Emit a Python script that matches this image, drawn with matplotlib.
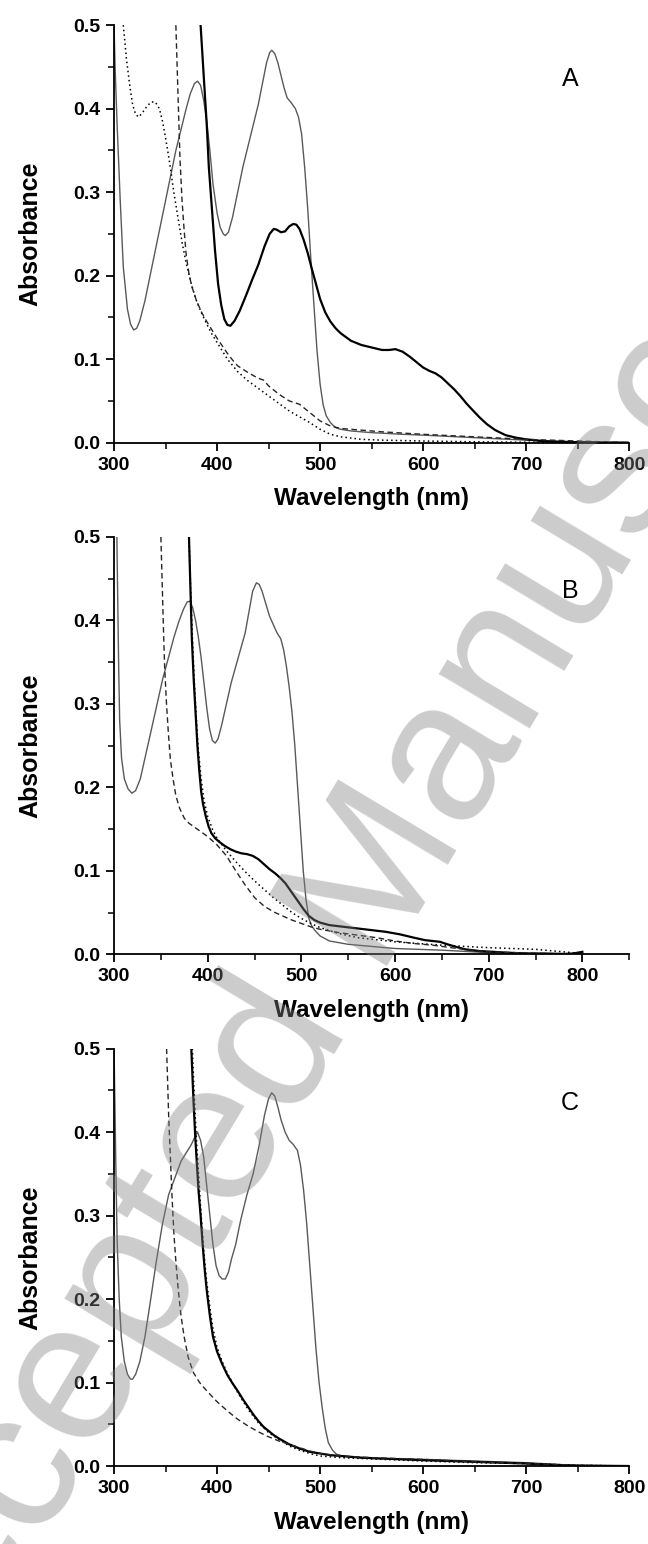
import matplotlib
matplotlib.use("Agg")
import matplotlib.pyplot as plt
from matplotlib.ticker import MultipleLocator

# ---- panel A ----
a_gray_x = [300, 301, 303, 306, 309, 313, 316, 319, 322, 325, 330, 335, 340, 345, 350, 355, 360, 365,
            370, 374, 378, 381, 384, 387, 390, 393, 396, 400, 403, 406, 408, 411, 415, 420, 425, 430,
            435, 440, 444, 448, 451, 453, 456, 459, 462, 465, 468, 472, 476, 479, 482, 485, 488, 491,
            494, 497, 500, 503, 506, 510, 515, 520, 530, 550, 580, 600, 650, 700, 750, 800]
a_gray_y = [0.50, 0.45, 0.38, 0.29, 0.21, 0.16, 0.142, 0.135, 0.137, 0.146, 0.17, 0.20, 0.23, 0.26,
            0.29, 0.32, 0.35, 0.375, 0.40, 0.418, 0.430, 0.433, 0.428, 0.41, 0.385, 0.35, 0.31, 0.275,
            0.258, 0.25, 0.248, 0.252, 0.27, 0.30, 0.33, 0.355, 0.38, 0.405, 0.43, 0.455, 0.467, 0.470,
            0.466, 0.455, 0.44, 0.425, 0.413, 0.407, 0.40, 0.39, 0.37, 0.33, 0.28, 0.22, 0.165, 0.11,
            0.07, 0.045, 0.032, 0.024, 0.018, 0.016, 0.014, 0.012, 0.010, 0.009, 0.006, 0.003, 0.001, 0.0]

a_black_x = [384, 386, 388, 390, 392, 395, 398, 401, 404, 407, 410, 413, 417, 422, 428, 434, 440,
             446, 451, 455, 458, 462, 466, 470, 474, 477, 480, 484, 488, 492, 496, 500, 505, 510,
             515, 520, 530, 540, 550, 560, 567, 573, 580, 587, 594, 600, 606, 612, 618, 624, 630,
             636, 642, 648, 655, 662, 670, 680, 690, 700, 715, 730, 750, 775, 800]
a_black_y = [0.50, 0.46, 0.42, 0.38, 0.33, 0.28, 0.23, 0.19, 0.165, 0.148, 0.141, 0.140, 0.146, 0.158,
             0.176, 0.195, 0.213, 0.235, 0.250, 0.256, 0.255, 0.252, 0.253, 0.259, 0.262, 0.261, 0.256,
             0.243, 0.227, 0.208, 0.19, 0.172, 0.156, 0.145, 0.137, 0.131, 0.122, 0.117, 0.114, 0.111,
             0.111, 0.112, 0.109, 0.103, 0.096, 0.090, 0.086, 0.083, 0.078, 0.071, 0.064, 0.056, 0.047,
             0.039, 0.030, 0.022, 0.015, 0.009, 0.006, 0.004, 0.002, 0.001, 0.0005, 0.0, 0.0]

a_dot_x = [309, 312, 315, 318, 321, 324, 328, 332, 336, 340, 344, 347, 350, 354, 358, 362, 366,
           370, 375, 380, 385, 390, 395, 400, 410, 420, 430, 440, 450, 460, 470, 480, 490, 500,
           510, 520, 540, 560, 600, 650, 700, 800]
a_dot_y = [0.50, 0.46, 0.43, 0.405, 0.393, 0.390, 0.396, 0.403, 0.408, 0.408, 0.400, 0.385, 0.365,
           0.335, 0.30, 0.27, 0.24, 0.215, 0.19, 0.17, 0.155, 0.142, 0.13, 0.12, 0.10, 0.085, 0.074,
           0.065, 0.056, 0.047, 0.038, 0.031, 0.024, 0.016, 0.010, 0.007, 0.004, 0.003, 0.002, 0.001,
           0.0005, 0.0]

a_dash_x = [360, 361, 362, 363, 364, 366, 368, 370, 373, 376, 380, 385, 390, 395, 400, 405, 410, 415,
            420, 430, 440, 445, 450, 460, 470, 480, 490, 500, 510, 520, 540, 560, 600, 650, 700, 750, 800]
a_dash_y = [0.50, 0.46, 0.42, 0.38, 0.34, 0.29, 0.255, 0.225, 0.20, 0.185, 0.17, 0.156, 0.145, 0.135,
            0.125, 0.116, 0.107, 0.099, 0.092, 0.084, 0.077, 0.075, 0.068, 0.058, 0.050, 0.046, 0.036,
            0.026, 0.020, 0.017, 0.015, 0.013, 0.010, 0.007, 0.004, 0.002, 0.0]

# ---- panel B ----
b_gray_x = [303, 304, 305, 306, 308, 311, 315, 319, 323, 328, 334, 340, 346, 352, 358, 364, 369, 374,
            378, 381, 384, 387, 390, 393, 396, 399, 402, 405, 408, 411, 415, 420, 425, 430, 435, 440,
            444, 448, 452, 455, 458, 462, 466, 470, 474, 478, 481, 484, 487, 490, 493, 496, 499, 502,
            505, 508, 511, 515, 520, 530, 550, 580, 600, 650, 700, 750, 800]
b_gray_y = [0.50, 0.42, 0.34, 0.28, 0.235, 0.21, 0.198, 0.193, 0.196, 0.21, 0.24, 0.27, 0.30, 0.33,
            0.355, 0.38, 0.398, 0.413, 0.422, 0.423, 0.415, 0.40, 0.38, 0.355, 0.325, 0.295, 0.27,
            0.256, 0.253, 0.258, 0.275, 0.30, 0.325, 0.345, 0.365, 0.385, 0.41, 0.435, 0.445, 0.443,
            0.435, 0.42, 0.405, 0.395, 0.385, 0.378, 0.365, 0.345, 0.32, 0.29, 0.25, 0.2, 0.15, 0.1,
            0.065, 0.043, 0.034, 0.028, 0.022, 0.016, 0.012, 0.009, 0.007, 0.005, 0.002, 0.001, 0.0]

b_black_x = [380, 381, 382, 383, 385, 387, 389, 391, 393, 395, 398, 401, 404, 408, 412, 418, 424,
             430, 436, 442, 448, 454, 460, 466, 472, 478, 483, 488, 493, 498, 503, 508, 514, 520,
             530, 545, 560, 575, 590, 605, 620, 632, 640, 648, 656, 665, 675, 690, 705, 720, 740,
             760, 780, 790, 795, 800]
b_black_y = [0.50, 0.46, 0.42, 0.38, 0.33, 0.29, 0.25, 0.22, 0.195, 0.18, 0.165, 0.153, 0.145, 0.139,
             0.135, 0.13, 0.126, 0.123, 0.121, 0.12, 0.118, 0.114, 0.108, 0.102, 0.097, 0.091, 0.085,
             0.077, 0.069, 0.061, 0.053, 0.046, 0.041, 0.038, 0.035, 0.033, 0.031, 0.029, 0.027, 0.024,
             0.020, 0.017, 0.016, 0.015, 0.012, 0.009, 0.006, 0.004, 0.003, 0.002, 0.001, 0.001,
             0.0005, 0.001, 0.002, 0.003]

b_dot_x = [380, 382, 384, 386, 388, 390, 393, 396, 400, 405, 410, 420, 430, 440, 450, 460, 470,
           480, 490, 500, 510, 520, 540, 560, 600, 650, 700, 750, 780, 800]
b_dot_y = [0.50, 0.43, 0.37, 0.32, 0.28, 0.245, 0.21, 0.185, 0.165, 0.150, 0.139, 0.124, 0.111,
           0.099, 0.088, 0.078, 0.068, 0.059, 0.050, 0.043, 0.037, 0.032, 0.025, 0.020, 0.015, 0.011,
           0.008, 0.006, 0.003, 0.001]

b_dash_x = [350, 351, 352, 353, 354, 356, 358, 360, 363, 366, 370, 375, 380, 390, 400, 410, 420,
            430, 440, 450, 460, 470, 480, 490, 500, 510, 520, 540, 560, 580, 600, 620, 640, 660,
            680, 700, 730, 760, 800]
b_dash_y = [0.50, 0.46, 0.42, 0.38, 0.345, 0.30, 0.265, 0.235, 0.21, 0.19, 0.175, 0.163, 0.157,
            0.149, 0.141, 0.131, 0.118, 0.1, 0.083, 0.068, 0.058, 0.051, 0.046, 0.041, 0.037, 0.033,
            0.030, 0.026, 0.023, 0.020, 0.016, 0.013, 0.011, 0.008, 0.005, 0.003, 0.002, 0.001, 0.0]

# ---- panel C ----
c_gray_x = [300, 301, 302, 303, 305, 307, 310, 313, 316, 318, 321, 325, 330, 335, 341, 347, 353,
            359, 365, 370, 375, 378, 381, 384, 387, 390, 393, 396, 399, 402, 405, 408, 411, 414,
            418, 423, 429, 435, 441, 446, 450, 453, 456, 459, 462, 466, 470, 474, 478, 481, 484,
            487, 490, 493, 496, 499, 502, 505, 508, 512, 516, 522, 530, 550, 600, 650, 700, 730,
            750, 800]
c_gray_y = [0.50, 0.42, 0.34, 0.27, 0.20, 0.155, 0.125, 0.11, 0.104, 0.104, 0.11, 0.125, 0.155,
            0.195, 0.245, 0.29, 0.325, 0.345, 0.365, 0.375, 0.385, 0.393, 0.40, 0.39, 0.37, 0.335,
            0.30, 0.265, 0.24, 0.228, 0.224, 0.224, 0.232, 0.248, 0.265, 0.295, 0.325, 0.35, 0.385,
            0.42, 0.44, 0.447, 0.443, 0.43, 0.415, 0.4, 0.39, 0.385, 0.378, 0.36, 0.33, 0.29, 0.24,
            0.19, 0.14, 0.1, 0.07, 0.045, 0.028, 0.019, 0.014, 0.012, 0.011, 0.009, 0.008, 0.006,
            0.004, 0.002, 0.0005, 0.0]

c_black_x = [375, 376, 377, 378, 379, 380, 382, 384, 386, 388, 390, 393, 396, 400, 405, 410, 415,
             420, 425, 430, 435, 440, 445, 450, 455, 460, 470, 480, 490, 500, 510, 520, 540, 560,
             600, 650, 700, 730, 750, 800]
c_black_y = [0.50, 0.47, 0.44, 0.415, 0.39, 0.37, 0.33, 0.30, 0.265, 0.235, 0.21, 0.18, 0.155, 0.137,
             0.122, 0.109, 0.099, 0.09, 0.08, 0.071, 0.062, 0.054, 0.047, 0.042, 0.037, 0.033, 0.026,
             0.021, 0.017, 0.015, 0.013, 0.012, 0.010, 0.009, 0.007, 0.005, 0.003, 0.001, 0.0005, 0.0]

c_dot_x = [376, 377, 378, 379, 380, 382, 384, 386, 388, 390, 393, 396, 400, 405, 410, 420, 430,
           440, 450, 460, 470, 480, 490, 500, 520, 540, 600, 650, 700, 750, 800]
c_dot_y = [0.50, 0.47, 0.44, 0.415, 0.39, 0.35, 0.31, 0.275, 0.245, 0.22, 0.19, 0.165, 0.142, 0.125,
           0.111, 0.088, 0.068, 0.052, 0.04, 0.032, 0.024, 0.019, 0.015, 0.012, 0.010, 0.009, 0.006,
           0.004, 0.003, 0.001, 0.0]

c_dash_x = [351, 352, 353, 354, 355, 356, 358, 360, 362, 365, 368, 372, 377, 383, 390, 400, 410,
            420, 430, 440, 450, 460, 470, 480, 490, 500, 520, 550, 600, 650, 700, 750, 800]
c_dash_y = [0.50, 0.46, 0.42, 0.39, 0.36, 0.33, 0.28, 0.245, 0.215, 0.18, 0.155, 0.13, 0.112, 0.1,
            0.09, 0.077, 0.066, 0.056, 0.048, 0.041, 0.035, 0.03, 0.026, 0.022, 0.018, 0.015, 0.012,
            0.010, 0.008, 0.005, 0.003, 0.001, 0.0]

panel_letters = ["A", "B", "C"]
x_limits = [(300, 800), (300, 850), (300, 800)]
x_label = "Wavelength (nm)"
y_label = "Absorbance"

plt.rcParams['font.family'] = ['Liberation Sans', 'DejaVu Sans']

fig = plt.figure(figsize=(6.48, 15.44), dpi=100)
bottoms = [0.7133, 0.3819, 0.0505]
panels = [
    (a_gray_x, a_gray_y, a_black_x, a_black_y, a_dot_x, a_dot_y, a_dash_x, a_dash_y),
    (b_gray_x, b_gray_y, b_black_x, b_black_y, b_dot_x, b_dot_y, b_dash_x, b_dash_y),
    (c_gray_x, c_gray_y, c_black_x, c_black_y, c_dot_x, c_dot_y, c_dash_x, c_dash_y),
]

for i, (gx, gy, kx, ky, dx, dy, sx, sy) in enumerate(panels):
    ax = fig.add_axes([0.176, bottoms[i], 0.795, 0.2704])
    ax.plot(gx, gy, color='0.35', lw=1.0)
    ax.plot(kx, ky, color='black', lw=1.6)
    ax.plot(dx, dy, color='black', lw=1.1, linestyle=(0, (1, 2)))
    ax.plot(sx, sy, color='0.15', lw=1.0, linestyle=(0, (4, 2.5)))

    ax.set_xlim(*x_limits[i])
    ax.set_ylim(0, 0.5)
    ax.spines['top'].set_visible(False)
    ax.spines['right'].set_visible(False)
    ax.spines['left'].set_linewidth(1.3)
    ax.spines['bottom'].set_linewidth(1.3)
    ax.xaxis.set_major_locator(MultipleLocator(100))
    ax.xaxis.set_minor_locator(MultipleLocator(50))
    ax.yaxis.set_major_locator(MultipleLocator(0.1))
    ax.yaxis.set_minor_locator(MultipleLocator(0.05))
    ax.yaxis.set_major_formatter(plt.FormatStrFormatter('%.1f'))
    ax.tick_params(which='major', direction='out', length=6, width=1.3, labelsize=14, pad=4)
    ax.tick_params(which='minor', direction='out', length=4, width=1.1)
    for lab in ax.get_xticklabels() + ax.get_yticklabels():
        lab.set_fontweight('bold')
    ax.set_xlabel(x_label, fontsize=17.5, fontweight='bold', labelpad=10)
    ax.set_ylabel(y_label, fontsize=18, fontweight='bold', labelpad=22)
    ax.text(0.885, 0.87, panel_letters[i], transform=ax.transAxes, fontsize=18,
            ha='center', va='center')

# faint diagonal watermark across the figure
fig.text(0.552, 0.4074, "Accepted Manuscript", fontsize=145, color='0.5', alpha=0.4,
         rotation=59, rotation_mode='anchor', ha='center', va='center', zorder=10)

fig.savefig("out.png", dpi=100)
